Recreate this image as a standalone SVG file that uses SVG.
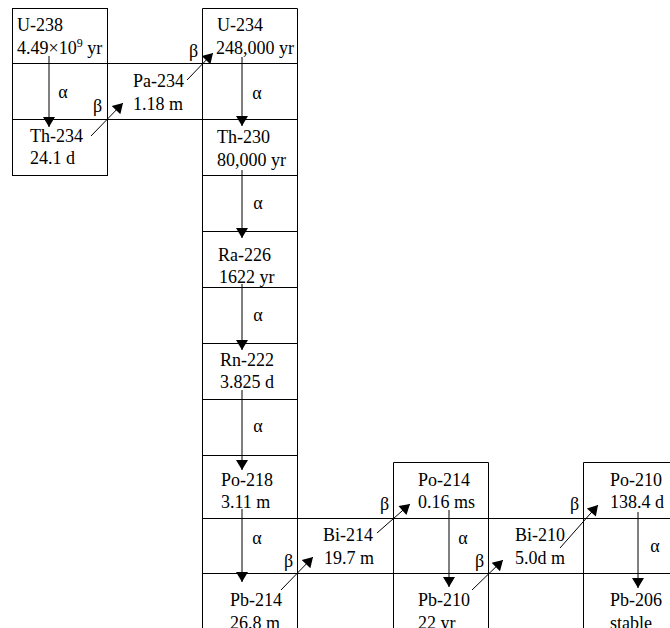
<svg xmlns="http://www.w3.org/2000/svg" width="670" height="628" viewBox="0 0 670 628">
<style>
text{font-family:"Liberation Serif","Times New Roman",serif;font-size:18px;fill:#000}
.g{stroke:#000;stroke-width:1;fill:none}
.c{stroke:#000;stroke-width:1;fill:none;marker-end:url(#ah)}
</style>
<defs>
<marker id="ah" markerUnits="userSpaceOnUse" markerWidth="12" markerHeight="12" viewBox="0 0 10 12" refX="10" refY="6" orient="auto">
<path d="M0,0 L10,6 L0,12 Z" fill="#000"/>
</marker>
</defs>
<rect width="670" height="628" fill="#fff"/>
<g id="grid" class="g">
<rect x="12.5" y="8.5" width="95" height="167"/>
<path d="M202.5,8.5 H297.5 M202.5,8.5 V628 M297.5,8.5 V628"/>
<path d="M12.5,63.5 H297.5 M12.5,119.5 H297.5"/>
<path d="M202.5,175.5 H297.5 M202.5,231.5 H297.5 M202.5,287.5 H297.5 M202.5,343.5 H297.5 M202.5,399.5 H297.5 M202.5,455.5 H297.5"/>
<path d="M393.5,462.5 H488.5 M393.5,462.5 V628 M488.5,462.5 V628"/>
<path d="M583.5,462.5 H670 M583.5,462.5 V628"/>
<path d="M202.5,518.5 H670 M202.5,573.5 H670"/>
</g>
<g id="U-238"><text x="17" y="31">U-238</text><text x="17" y="54">4.49×10<tspan font-size="12" dy="-7">9</tspan><tspan dy="7"> yr</tspan></text></g>
<g id="Th-234"><text x="30" y="142">Th-234</text><text x="30" y="164">24.1 d</text></g>
<g id="Pa-234"><text x="133" y="87">Pa-234</text><text x="133" y="110">1.18 m</text></g>
<g id="U-234"><text x="217" y="31">U-234</text><text x="216" y="54">248,000 yr</text></g>
<g id="Th-230"><text x="217" y="143">Th-230</text><text x="217" y="166">80,000 yr</text></g>
<g id="Ra-226"><text x="218" y="261">Ra-226</text><text x="219" y="283">1622 yr</text></g>
<g id="Rn-222"><text x="220" y="366">Rn-222</text><text x="220" y="388">3.825 d</text></g>
<g id="Po-218"><text x="221" y="486">Po-218</text><text x="221" y="508">3.11 m</text></g>
<g id="Pb-214"><text x="230" y="606">Pb-214</text><text x="230" y="629">26.8 m</text></g>
<g id="Bi-214"><text x="323" y="541">Bi-214</text><text x="324" y="564">19.7 m</text></g>
<g id="Po-214"><text x="418" y="486">Po-214</text><text x="418" y="508">0.16 ms</text></g>
<g id="Pb-210"><text x="418" y="606">Pb-210</text><text x="418" y="629">22 yr</text></g>
<g id="Bi-210"><text x="515" y="541">Bi-210</text><text x="515" y="564">5.0d m</text></g>
<g id="Po-210"><text x="610" y="486">Po-210</text><text x="610" y="508">138.4 d</text></g>
<g id="Pb-206"><text x="610" y="606">Pb-206</text><text x="610" y="629">stable</text></g>
<g id="connectors">
<line class="c" x1="49" y1="56" x2="49" y2="127"/>
<line class="c" x1="242" y1="57" x2="242" y2="126"/>
<line class="c" x1="242" y1="170" x2="242" y2="238"/>
<line class="c" x1="242" y1="284" x2="242" y2="350"/>
<line class="c" x1="242" y1="390" x2="242" y2="470"/>
<line class="c" x1="242" y1="509" x2="242" y2="582"/>
<line class="c" x1="449" y1="510" x2="449" y2="587"/>
<line class="c" x1="638" y1="512" x2="638" y2="588"/>
<line class="c" x1="91" y1="136" x2="123" y2="103"/>
<line class="c" x1="187" y1="80" x2="213" y2="53"/>
<line class="c" x1="281" y1="590" x2="313" y2="557"/>
<line class="c" x1="377" y1="533" x2="410" y2="504"/>
<line class="c" x1="472" y1="590" x2="503" y2="560"/>
<line class="c" x1="560" y1="548" x2="598" y2="505"/>
<g text-anchor="middle">
<text x="63" y="98">α</text>
<text x="257" y="99">α</text>
<text x="258" y="209">α</text>
<text x="258" y="321">α</text>
<text x="258" y="432">α</text>
<text x="257" y="544">α</text>
<text x="463" y="544">α</text>
<text x="655" y="552">α</text>
</g>
<text x="93" y="112">β</text>
<text x="189" y="57">β</text>
<text x="284" y="567">β</text>
<text x="380" y="510">β</text>
<text x="475" y="567">β</text>
<text x="570" y="510">β</text>
</g>
</svg>
